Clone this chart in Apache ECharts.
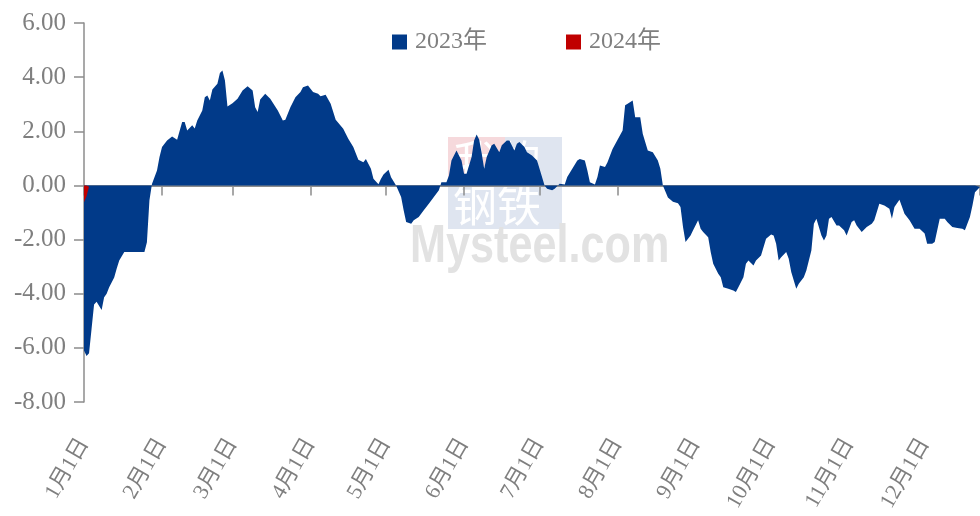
<!DOCTYPE html>
<html>
<head>
<meta charset="utf-8">
<script src="https://cdn.jsdelivr.net/npm/echarts@6/dist/echarts.min.js"></script>
<style>
html, body { margin: 0; padding: 0; background: #fff; }
#chart { width: 980px; height: 516px; }
</style>
</head>
<body>
<div id="chart"></div>
<script>
// 2023年 日期 (月-日) 与数值
var dates2023 = [
	'01-01','01-02','01-03','01-04','01-05','01-06','01-08','01-09','01-10','01-11','01-13','01-14','01-15','01-17','01-25','01-26','01-27','01-28','01-30','01-31',
	'02-01','02-03','02-05','02-07','02-09','02-10','02-11','02-13','02-14','02-15','02-17','02-18','02-19','02-20','02-21','02-23','02-24','02-25','02-26','02-27',
	'03-01','03-03','03-05','03-07','03-09','03-10','03-11','03-12','03-14','03-16','03-19','03-21','03-22','03-24','03-26','03-28','03-29','03-31',
	'04-02','04-04','04-05','04-07','04-09','04-11','04-14','04-16','04-18','04-20','04-22','04-23','04-25','04-26','04-28','04-29','04-30',
	'05-02','05-03','05-05','05-07','05-08','05-09','05-11','05-12','05-14','05-16','05-18','05-20','05-22','05-23','05-25','05-26','05-27','05-29','05-31',
	'06-01','06-02','06-04','06-05','06-06','06-07','06-08','06-09','06-10','06-12','06-13','06-15','06-16','06-18','06-19','06-21','06-22','06-23','06-25','06-26','06-28','06-30',
	'07-01','07-03','07-04','07-06','07-07','07-09','07-11','07-12','07-14','07-16','07-17','07-19','07-20','07-21','07-23','07-24','07-25','07-27','07-28','07-30',
	'08-01','08-03','08-04','08-05','08-07','08-08','08-10','08-11','08-13','08-15','08-17','08-18','08-19','08-21','08-23','08-25','08-26','08-27','08-28','08-30','08-31',
	'09-02','09-03','09-04','09-06','09-07','09-08','09-10','09-11','09-12','09-14','09-16','09-17','09-18','09-20','09-21','09-22','09-24','09-25','09-27','09-29',
	'10-01','10-02','10-03','10-04','10-05','10-07','10-08','10-09','10-11','10-12','10-14','10-15','10-17','10-18','10-19','10-21','10-22','10-23','10-24','10-25','10-27','10-28','10-30','10-31',
	'11-02','11-03','11-04','11-06','11-08','11-10','11-11','11-13','11-15','11-17','11-18','11-19','11-21','11-23','11-25','11-27','11-29',
	'12-01','12-02','12-04','12-05','12-07','12-09','12-10','12-12','12-14','12-16','12-17','12-19','12-20','12-21','12-23'
];
var values2023 = [
	-6.1,-6.3,-6.2,-5.3,-4.4,-4.3,-4.6,-4.13,-4.0,-3.76,-3.4,-3.07,-2.77,-2.46,-2.46,-2.1,-0.55,0.05,0.55,1.05,
	1.42,1.66,1.81,1.69,2.34,2.34,2.03,2.22,2.1,2.4,2.77,3.26,3.32,3.14,3.54,3.76,4.15,4.25,3.88,2.92,
	3.04,3.2,3.51,3.66,3.51,2.89,2.71,3.17,3.39,3.2,2.77,2.4,2.43,2.89,3.26,3.45,3.63,3.69,
	3.45,3.39,3.29,3.35,3.02,2.43,2.09,1.72,1.42,0.95,0.86,0.98,0.62,0.25,0.04,0.25,0.4,
	0.58,0.3,0.0,-0.43,-0.92,-1.35,-1.42,-1.29,-1.17,-0.92,-0.68,-0.43,-0.18,0.12,0.12,0.37,0.92,1.29,0.92,
	0.43,0.43,1.05,1.66,1.88,1.7,1.2,0.62,1.05,1.48,1.54,1.23,1.48,1.66,1.66,1.29,1.54,1.6,1.42,1.23,1.11,0.92,
	0.62,0.0,-0.12,-0.18,-0.12,0.06,0.03,0.31,0.62,0.92,0.98,0.92,0.55,0.12,0.03,0.31,0.74,0.68,0.86,1.35,
	1.69,2.03,2.96,3.02,3.14,2.52,2.52,1.91,1.29,1.23,0.92,0.62,0.0,-0.45,-0.6,-0.66,-0.8,-1.54,-2.09,-1.85,-1.66,
	-1.29,-1.6,-1.72,-1.91,-2.46,-2.89,-3.26,-3.39,-3.76,-3.82,-3.88,-3.94,-3.76,-3.39,-2.89,-2.77,-2.96,-2.77,-2.59,-1.97,
	-1.81,-1.85,-2.15,-2.77,-2.65,-2.46,-2.71,-3.2,-3.82,-3.63,-3.39,-3.14,-2.4,-1.42,-1.23,-1.85,-2.03,-1.85,-1.23,-1.17,-1.48,-1.48,-1.66,-1.85,
	-1.35,-1.29,-1.48,-1.72,-1.54,-1.42,-1.29,-0.68,-0.74,-0.86,-1.23,-0.8,-0.53,-1.05,-1.29,-1.6,-1.6,
	-1.78,-2.15,-2.15,-2.09,-1.23,-1.23,-1.35,-1.54,-1.57,-1.6,-1.66,-1.17,-0.74,-0.25,-0.06
];
// 2024年
var dates2024 = ['01-01','01-02','01-03'];
var values2024 = [-0.62,-0.4,-0.05];

var seriesNames = ['2023年','2024年'];
var xMin = '2023-01-01';
var xMax = '2023-12-23';

function toPairs(ds, vs) {
	var out = [];
	for (var i = 0; i < ds.length; i++) {
		out.push(['2023-' + ds[i], vs[i]]);
	}
	return out;
}

var serifFont = '"Liberation Serif", "Noto Sans CJK SC", serif';
var grayText = '#7f7f7f';
var DAY = 86400000;

var myChart = echarts.init(document.getElementById('chart'));

myChart.setOption({
	animation: false,
	grid: {
		left: 84,
		right: 0,
		top: 23,
		bottom: 114
	},
	legend: {
		data: seriesNames,
		left: 387,
		top: 25,
		icon: 'rect',
		itemWidth: 15,
		itemHeight: 15,
		itemGap: 79,
		textStyle: {
			fontFamily: serifFont,
			fontSize: 24,
			color: grayText,
			padding: [0, 0, 0, 3]
		}
	},
	graphic: [
		// 水印
		{ type: 'rect', z: 0, silent: true, shape: { x: 448, y: 137, width: 57, height: 44 }, style: { fill: '#f6d9dc' } },
		{ type: 'rect', z: 0, silent: true, shape: { x: 505, y: 137, width: 57, height: 44 }, style: { fill: '#dfe5f0' } },
		{ type: 'rect', z: 0, silent: true, shape: { x: 448, y: 181, width: 114, height: 48 }, style: { fill: '#dfe5f0' } },
		{ type: 'text', z: 0, silent: true, left: 453, top: 139, style: { text: '我的', fontSize: 44, fill: '#ffffff', fontFamily: '"Noto Sans CJK SC"' } },
		{ type: 'text', z: 0, silent: true, left: 453, top: 183, style: { text: '钢铁', fontSize: 44, fill: '#ffffff', fontFamily: '"Noto Sans CJK SC"' } },
		{ type: 'text', z: 0, silent: true, x: 410, y: 220, scaleX: 0.8, style: { text: 'Mysteel.com', fontSize: 54, fontWeight: 'bold', fill: '#e2e2e2', fontFamily: '"Liberation Sans", sans-serif', verticalAlign: 'top' } }
	],
	xAxis: [{
		type: 'time',
		min: xMin,
		max: xMax,
		minInterval: 28 * DAY,
		maxInterval: 31 * DAY,
		axisLine: {
			onZero: true,
			lineStyle: { color: '#8c8c8c', width: 2 }
		},
		axisTick: {
			show: true,
			length: 10,
			lineStyle: { color: '#8c8c8c', width: 1.5 }
		},
		axisLabel: { show: false },
		splitLine: { show: false }
	}, {
		type: 'time',
		min: xMin,
		max: xMax,
		minInterval: 28 * DAY,
		maxInterval: 31 * DAY,
		position: 'bottom',
		axisLine: { show: false, onZero: false },
		axisTick: { show: false },
		splitLine: { show: false },
		axisLabel: {
			rotate: 60,
			margin: 38,
			fontFamily: serifFont,
			fontSize: 22,
			color: grayText,
			formatter: function (val) {
				var d = new Date(val);
				return (d.getMonth() + 1) + '月' + d.getDate() + '日';
			}
		}
	}],
	yAxis: {
		type: 'value',
		min: -8,
		max: 6,
		interval: 2,
		axisLine: {
			show: true,
			lineStyle: { color: '#8c8c8c', width: 1.5 }
		},
		axisTick: {
			show: true,
			length: 10,
			lineStyle: { color: '#8c8c8c', width: 1.5 }
		},
		splitLine: { show: false },
		axisLabel: {
			margin: 18,
			fontFamily: serifFont,
			fontSize: 25,
			color: grayText,
			formatter: function (v) { return v.toFixed(2); }
		}
	},
	series: [{
		name: seriesNames[0],
		type: 'line',
		xAxisIndex: 0,
		data: toPairs(dates2023, values2023),
		symbol: 'none',
		color: '#013a89',
		lineStyle: { width: 0 },
		areaStyle: { color: '#013a89', opacity: 1 }
	}, {
		name: seriesNames[1],
		type: 'line',
		xAxisIndex: 0,
		data: toPairs(dates2024, values2024),
		symbol: 'none',
		color: '#c00000',
		lineStyle: { width: 0 },
		areaStyle: { color: '#c00000', opacity: 1 }
	}]
});
</script>
</body>
</html>
